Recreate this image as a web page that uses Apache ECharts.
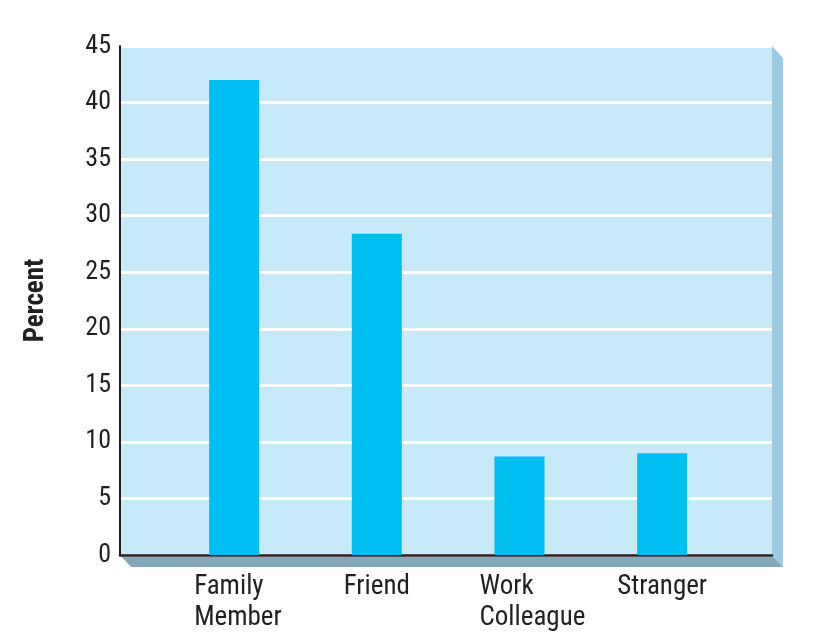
<!DOCTYPE html>
<html><head><meta charset="utf-8">
<script src="https://cdn.jsdelivr.net/npm/echarts@6/dist/echarts.min.js"></script>
<style>html,body{margin:0;padding:0;background:#fff}#c{width:826px;height:637px}</style>
</head><body><div id="c"></div>
<script>
const categories = ['Family\nMember', 'Friend', 'Work\nColleague', 'Stranger'];
const values = [42, 28.4, 8.7, 9.0];
const positions = [1, 2, 3, 4];
const yMin = 0, yMax = 45, yStep = 5;
const FONT = "'Liberation Sans Narrow', 'Roboto Condensed', 'Liberation Sans', sans-serif";

const chart = echarts.init(document.getElementById('c'), null, {renderer: 'canvas'});
const option = {
  animation: false,
  backgroundColor: '#ffffff',
  grid: {left: 120, right: 54, top: 46, bottom: 82, show: true, backgroundColor: '#c7e9f8', borderWidth: 0},
  xAxis: {
    type: 'value', min: 0.2, max: 4.77,
    axisLine: {show: true, lineStyle: {color: '#231f20', width: 2.5}},
    axisTick: {show: false},
    splitLine: {show: false},
    axisLabel: {
      customValues: positions,
      margin: 17,
      color: '#231f20', fontFamily: FONT, fontSize: 27, lineHeight: 31,
      formatter: function (v) {
        const name = categories[positions.indexOf(v)] || '';
        const lines = name.split('\n');
        if (lines.length > 1) return lines.map(l => '{L|' + l + '}').join('\n');
        return '{C|' + name + '}';
      },
      rich: {
        L: {width: 80, align: 'left', fontFamily: FONT, fontSize: 27, lineHeight: 31, color: '#231f20'},
        C: {align: 'center', fontFamily: FONT, fontSize: 27, lineHeight: 31, color: '#231f20'}
      }
    }
  },
  yAxis: {
    type: 'value', min: yMin, max: yMax, interval: yStep,
    name: 'Percent', nameLocation: 'middle', nameGap: 70, nameRotate: 90,
    nameTextStyle: {fontFamily: FONT, fontWeight: 'bold', fontSize: 27, color: '#231f20'},
    axisLine: {show: true, lineStyle: {color: '#231f20', width: 2}},
    axisTick: {show: false},
    axisLabel: {margin: 9, color: '#231f20', fontFamily: FONT, fontSize: 26},
    splitLine: {show: true, lineStyle: {color: '#ffffff', width: 3}}
  },
  series: [{
    type: 'bar', barWidth: 50,
    itemStyle: {color: '#00bef2'},
    data: values.map((v, i) => [positions[i], v]),
    z: 3
  }]
};
chart.setOption(option);

// 3D frame decoration (derived from grid)
const tl = chart.convertToPixel({xAxisIndex: 0, yAxisIndex: 0}, [0.2, yMax]);
const br = chart.convertToPixel({xAxisIndex: 0, yAxisIndex: 0}, [4.77, yMin]);
const d = 11;
chart.setOption({
  graphic: [
    {type: 'polygon', z: -1, shape: {points: [[tl[0], br[1]], [br[0], br[1]], [br[0] + d, br[1] + d + 1], [tl[0] + d, br[1] + d + 1]]}, style: {fill: '#84a9bb'}},
    {type: 'polygon', z: -1, shape: {points: [[br[0], tl[1]], [br[0] + d, tl[1] + d + 1], [br[0] + d, br[1] + d + 1], [br[0], br[1]]]}, style: {fill: '#9dcbe3'}}
  ]
});
</script></body></html>
